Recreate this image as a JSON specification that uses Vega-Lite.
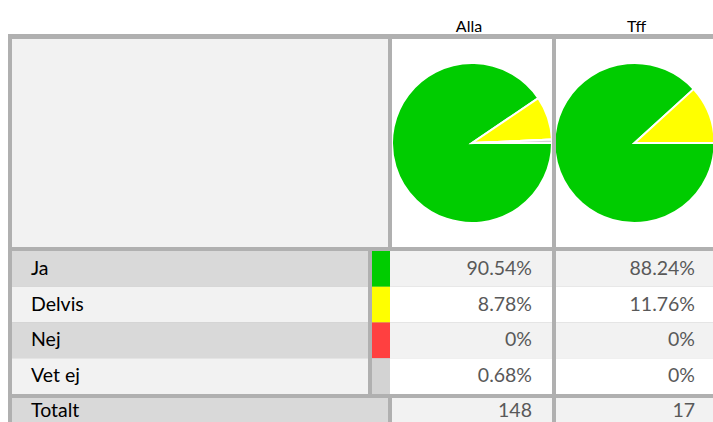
{
  "$schema": "https://vega.github.io/schema/vega-lite/v6.json",
  "background": "#b0b0b0",
  "padding": 0,
  "config": {"view": {"stroke": null}, "font": "Lato"},
  "datasets": {
    "shares": [
      {"group": "Alla", "answer": "Ja", "rank": 1, "share": 0.9054},
      {"group": "Alla", "answer": "Delvis", "rank": 2, "share": 0.0878},
      {"group": "Alla", "answer": "Nej", "rank": 3, "share": 0},
      {"group": "Alla", "answer": "Vet ej", "rank": 4, "share": 0.0068},
      {"group": "Tff", "answer": "Ja", "rank": 1, "share": 0.8824},
      {"group": "Tff", "answer": "Delvis", "rank": 2, "share": 0.1176},
      {"group": "Tff", "answer": "Nej", "rank": 3, "share": 0},
      {"group": "Tff", "answer": "Vet ej", "rank": 4, "share": 0}
    ],
    "totals": [
      {"group": "Alla", "row": "Totalt", "n": 148},
      {"group": "Tff", "row": "Totalt", "n": 17}
    ]
  },
  "spacing": 0,
  "hconcat": [
    {"width": 8, "height": 422, "view": {"fill": "white"}, "data": {"values": []}, "mark": "rect", "encoding": {}},
    {
      "spacing": 4,
      "vconcat": [
        {
          "spacing": 0,
          "hconcat": [
            {"width": 384, "height": 34, "view": {"fill": "white"}, "data": {"values": []}, "mark": "rect", "encoding": {}},
            {"width": 162, "height": 34, "view": {"fill": "white"}, "data": {"name": "totals"},
             "transform": [{"filter": "datum.group === 'Alla'"}],
             "mark": {"type": "text", "fontSize": 16, "color": "#000000", "baseline": "alphabetic", "dy": 15, "dx": -4},
             "encoding": {"text": {"field": "group"}}},
            {"width": 159, "height": 34, "view": {"fill": "white"}, "data": {"name": "totals"},
             "transform": [{"filter": "datum.group === 'Tff'"}],
             "mark": {"type": "text", "fontSize": 16, "color": "#000000", "baseline": "alphabetic", "dy": 15, "dx": 3},
             "encoding": {"text": {"field": "group"}}}
          ]
        },
        {
          "spacing": 0,
          "hconcat": [
            {"width": 4, "height": 384, "data": {"values": []}, "mark": "rect", "encoding": {}},
            {
              "spacing": 4,
              "vconcat": [
                {
                  "spacing": 4,
                  "hconcat": [
                    {"width": 376, "height": 208, "view": {"fill": "#f2f2f2"}, "data": {"values": []}, "mark": "rect", "encoding": {}},
                    {"width": 160, "height": 208, "view": {"fill": "white"}, "data": {"name": "shares"},
                     "transform": [{"filter": "datum.group === 'Alla'"}],
                     "mark": {"type": "arc", "stroke": "white", "strokeWidth": 2, "outerRadius": 80, "clip": true},
                     "encoding": {
                       "theta": {"field": "share", "type": "quantitative", "stack": true, "scale": {"range": [1.5708, 7.854]}},
                       "color": {"field": "answer", "type": "nominal", "scale": {"domain": ["Ja", "Delvis", "Nej", "Vet ej"], "range": ["#00cc00", "#ffff00", "#ff4040", "#d3d3d3"]}, "legend": null},
                       "order": {"field": "rank"}
                     }},
                    {"width": 157, "height": 208, "view": {"fill": "white"}, "data": {"name": "shares"},
                     "transform": [{"filter": "datum.group === 'Tff'"}],
                     "mark": {"type": "arc", "stroke": "white", "strokeWidth": 2, "outerRadius": 80, "clip": true},
                     "encoding": {
                       "theta": {"field": "share", "type": "quantitative", "stack": true, "scale": {"range": [1.5708, 7.854]}},
                       "color": {"field": "answer", "type": "nominal", "scale": {"domain": ["Ja", "Delvis", "Nej", "Vet ej"], "range": ["#00cc00", "#ffff00", "#ff4040", "#d3d3d3"]}, "legend": null},
                       "order": {"field": "rank"}
                     }}
                  ]
                },
                {
                  "spacing": 4,
                  "hconcat": [
                    {"width": 356, "height": 143, "data": {"name": "shares"},
                     "transform": [{"filter": "datum.group === 'Alla'"}],
                     "encoding": {
                       "y": {"field": "answer", "type": "nominal", "sort": ["Ja", "Delvis", "Nej", "Vet ej"], "scale": {"type": "band", "paddingInner": 0, "paddingOuter": 0}, "axis": null},
                       "x": {"field": "group", "type": "nominal", "bandPosition": 0, "scale": {"type": "band", "paddingInner": 0, "paddingOuter": 0}, "axis": null}
                     },
                     "layer": [
                       {"mark": {"type": "rect"}, "encoding": {"x": {"field": "group", "type": "nominal", "axis": null}, "fill": {"condition": {"test": "datum.rank % 2 === 1", "value": "#d9d9d9"}, "value": "#f2f2f2"}}},
                       {"mark": {"type": "text", "align": "left", "dx": 19, "fontSize": 19.5, "color": "#000000"}, "encoding": {"text": {"field": "answer"}}}
                     ]},
                    {
                      "spacing": 0,
                      "hconcat": [
                        {"width": 18, "height": 143, "data": {"name": "shares"},
                         "transform": [{"filter": "datum.group === 'Alla'"}],
                         "mark": {"type": "rect"},
                         "encoding": {
                           "y": {"field": "answer", "type": "nominal", "sort": ["Ja", "Delvis", "Nej", "Vet ej"], "scale": {"type": "band", "paddingInner": 0, "paddingOuter": 0}, "axis": null},
                           "x": {"field": "group", "type": "nominal", "scale": {"type": "band", "paddingInner": 0, "paddingOuter": 0}, "axis": null},
                           "color": {"field": "answer", "type": "nominal", "scale": {"domain": ["Ja", "Delvis", "Nej", "Vet ej"], "range": ["#00cc00", "#ffff00", "#ff4040", "#d3d3d3"]}, "legend": null}
                         }},
                        {"width": 162, "height": 143, "data": {"name": "shares"},
                         "transform": [{"filter": "datum.group === 'Alla'"}],
                         "encoding": {
                           "y": {"field": "answer", "type": "nominal", "sort": ["Ja", "Delvis", "Nej", "Vet ej"], "scale": {"type": "band", "paddingInner": 0, "paddingOuter": 0}, "axis": null},
                           "x": {"field": "group", "type": "nominal", "bandPosition": 1, "scale": {"type": "band", "paddingInner": 0, "paddingOuter": 0}, "axis": null}
                         },
                         "layer": [
                           {"mark": {"type": "rect"}, "encoding": {"x": {"field": "group", "type": "nominal", "axis": null}, "fill": {"condition": {"test": "datum.rank % 2 === 1", "value": "#f2f2f2"}, "value": "#ffffff"}}},
                           {"mark": {"type": "text", "align": "right", "dx": -20, "fontSize": 19.5, "color": "#595959"}, "encoding": {"text": {"field": "share", "type": "quantitative", "format": "~%"}}}
                         ]}
                      ]
                    },
                    {"width": 157, "height": 143, "data": {"name": "shares"},
                     "transform": [{"filter": "datum.group === 'Tff'"}],
                     "encoding": {
                       "y": {"field": "answer", "type": "nominal", "sort": ["Ja", "Delvis", "Nej", "Vet ej"], "scale": {"type": "band", "paddingInner": 0, "paddingOuter": 0}, "axis": null},
                       "x": {"field": "group", "type": "nominal", "bandPosition": 1, "scale": {"type": "band", "paddingInner": 0, "paddingOuter": 0}, "axis": null}
                     },
                     "layer": [
                       {"mark": {"type": "rect"}, "encoding": {"x": {"field": "group", "type": "nominal", "axis": null}, "fill": {"condition": {"test": "datum.rank % 2 === 1", "value": "#f2f2f2"}, "value": "#ffffff"}}},
                       {"mark": {"type": "text", "align": "right", "dx": -18, "fontSize": 19.5, "color": "#595959"}, "encoding": {"text": {"field": "share", "type": "quantitative", "format": "~%"}}}
                     ]}
                  ]
                },
                {
                  "spacing": 4,
                  "hconcat": [
                    {"width": 376, "height": 25, "view": {"fill": "#d9d9d9"}, "data": {"name": "totals"},
                     "transform": [{"filter": "datum.group === 'Alla'"}],
                     "mark": {"type": "text", "align": "left", "dx": 19, "fontSize": 19.5, "color": "#000000"},
                     "encoding": {
                       "x": {"field": "row", "type": "nominal", "bandPosition": 0, "scale": {"type": "band", "paddingInner": 0, "paddingOuter": 0}, "axis": null},
                       "text": {"field": "row"}
                     }},
                    {"width": 160, "height": 25, "view": {"fill": "#f2f2f2"}, "data": {"name": "totals"},
                     "transform": [{"filter": "datum.group === 'Alla'"}],
                     "mark": {"type": "text", "align": "right", "dx": -20, "fontSize": 19.5, "color": "#595959"},
                     "encoding": {
                       "x": {"field": "group", "type": "nominal", "bandPosition": 1, "scale": {"type": "band", "paddingInner": 0, "paddingOuter": 0}, "axis": null},
                       "text": {"field": "n", "type": "quantitative"}
                     }},
                    {"width": 157, "height": 25, "view": {"fill": "#f2f2f2"}, "data": {"name": "totals"},
                     "transform": [{"filter": "datum.group === 'Tff'"}],
                     "mark": {"type": "text", "align": "right", "dx": -18, "fontSize": 19.5, "color": "#595959"},
                     "encoding": {
                       "x": {"field": "group", "type": "nominal", "bandPosition": 1, "scale": {"type": "band", "paddingInner": 0, "paddingOuter": 0}, "axis": null},
                       "text": {"field": "n", "type": "quantitative"}
                     }}
                  ]
                }
              ]
            }
          ]
        }
      ]
    }
  ]
}
